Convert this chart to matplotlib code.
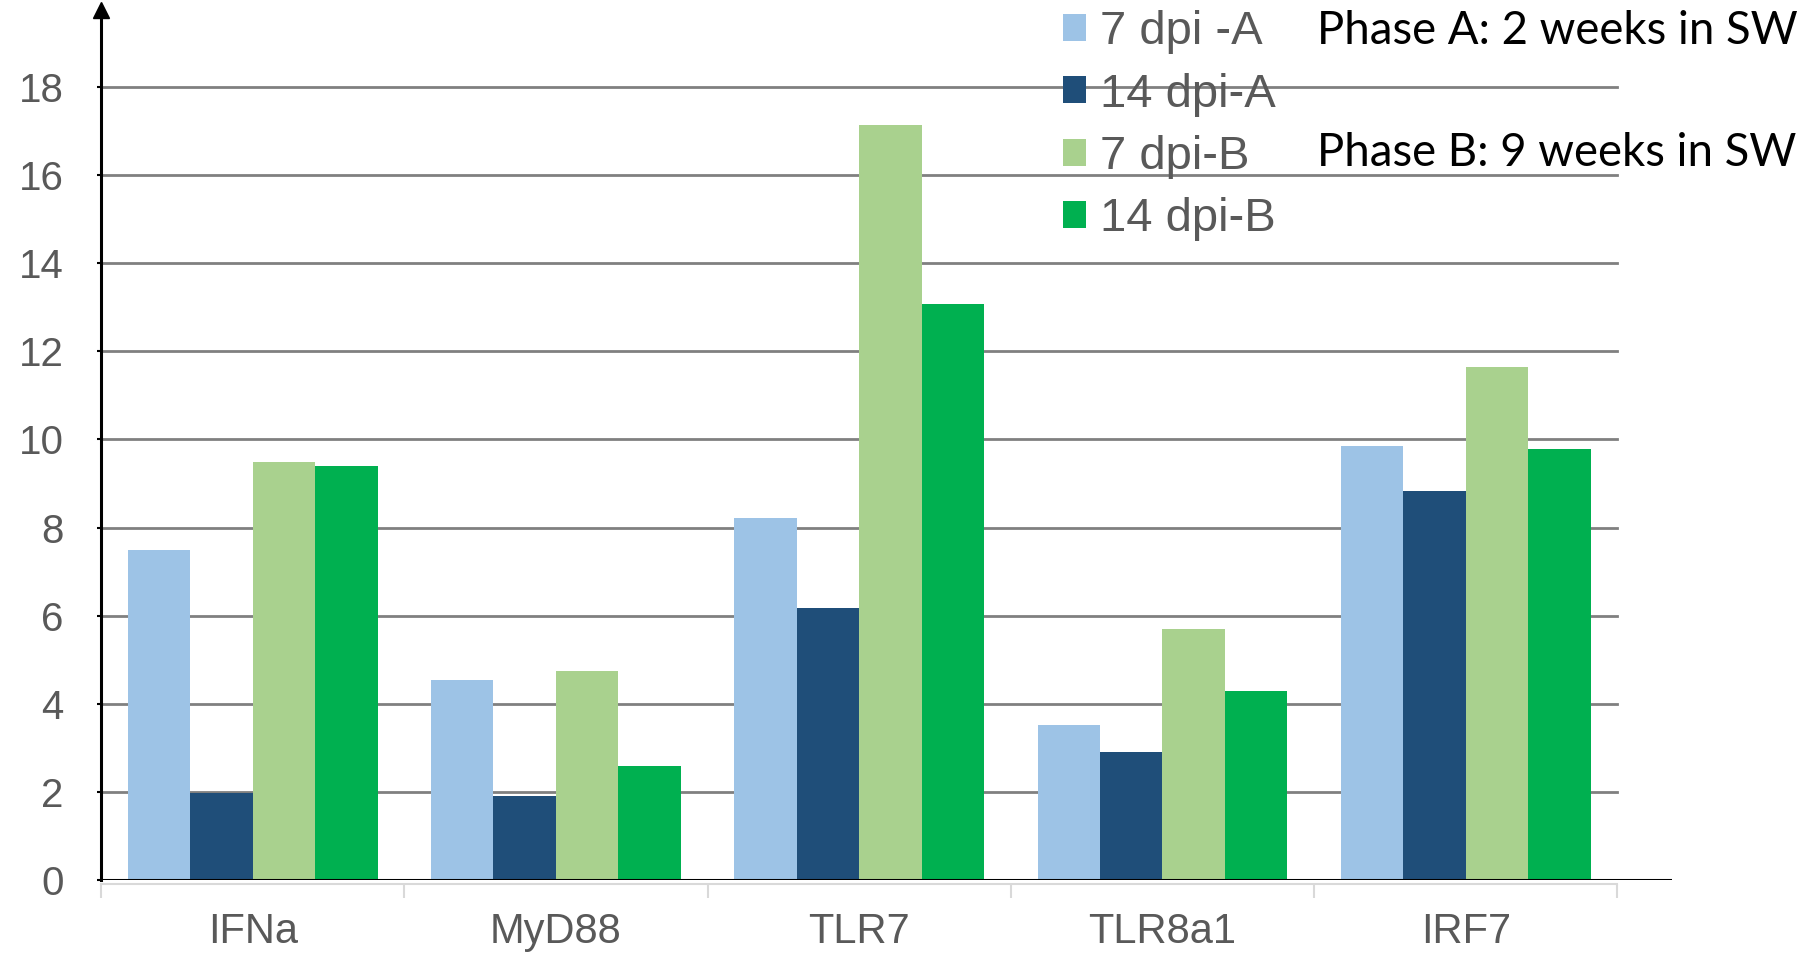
import matplotlib
matplotlib.use("Agg")
import matplotlib.pyplot as plt
import numpy as np
from matplotlib.patches import Patch

genes = ["IFNa", "MyD88", "TLR7", "TLR8a1", "IRF7"]
series = ["7 dpi -A", "14 dpi-A", "7 dpi-B", "14 dpi-B"]
dpi7_a = [7.5, 4.55, 8.22, 3.52, 9.86]
dpi14_a = [1.97, 1.9, 6.18, 2.9, 8.82]
dpi7_b = [9.5, 4.75, 17.14, 5.69, 11.64]
dpi14_b = [9.39, 2.58, 13.07, 4.28, 9.78]
colors = ["#9DC3E6", "#1F4E79", "#A9D18E", "#00B050"]
yticks = list(range(0, 19, 2))

grey = "#595959"
fig = plt.figure(figsize=(18.06, 9.55), dpi=100)
ax = fig.add_axes([101 / 1806, 1 - 880 / 955, (1672 - 101) / 1806, 870 / 955])

x = np.arange(len(genes))
w = 0.206
for i, (vals, c) in enumerate(zip([dpi7_a, dpi14_a, dpi7_b, dpi14_b], colors)):
    ax.bar(x + (i - 1.5) * w, vals, w, color=c, zorder=3, linewidth=0)

# gridlines only over the category range
for t in yticks[1:]:
    ax.plot([-0.5, 4.5], [t, t], color="#808080", lw=2, zorder=1)
ax.axhline(0, color="black", lw=2.2, zorder=4)

ax.set_xlim(-0.5, 4.68)
ax.set_ylim(0, 19.75)
ax.set_yticks(yticks)
ax.set_xticks(x)
ax.set_xticklabels(genes)
ax.set_xticks(np.arange(-0.5, 5, 1), minor=True)

for s in ["top", "right"]:
    ax.spines[s].set_visible(False)
ax.spines["left"].set_linewidth(2.2)
ax.spines["bottom"].set_color("#D9D9D9")
ax.spines["bottom"].set_linewidth(1.5)
ax.spines["bottom"].set_position(("outward", 3))
ax.spines["bottom"].set_bounds(-0.5, 4.5)

ax.tick_params(axis="y", length=3, width=1.5, labelsize=29, labelcolor=grey, pad=24)
ax.tick_params(axis="x", which="major", length=0, labelsize=30, labelcolor=grey, pad=20)
ax.tick_params(axis="x", which="minor", length=10, width=1.5, color="#D9D9D9")
for lab in ax.get_xticklabels() + ax.get_yticklabels():
    lab.set_fontfamily("Liberation Sans")

# arrow head on the value axis
ax.plot(0, 1, marker="^", markersize=11, color="black", transform=ax.transAxes,
        clip_on=False, zorder=5)

handles = [Patch(facecolor=c, edgecolor="none") for c in colors]
leg = fig.legend(handles, series, loc="upper left", bbox_to_anchor=(1039 / 1806, 1.014),
                 frameon=False, prop={"family": "Liberation Sans", "size": 34},
                 handlelength=0.5, handleheight=0.5, handletextpad=0.3,
                 labelspacing=0.39, borderpad=0)
for t in leg.get_texts():
    t.set_color(grey)

fig.text(1317 / 1806, 1 - 31 / 955, "Phase A: 2 weeks in SW", fontsize=32.8,
         family="Lato", va="center", ha="left", color="black")
fig.text(1317 / 1806, 1 - 153 / 955, "Phase B: 9 weeks in SW", fontsize=32.8,
         family="Lato", va="center", ha="left", color="black")

fig.savefig("out.png", dpi=100)
